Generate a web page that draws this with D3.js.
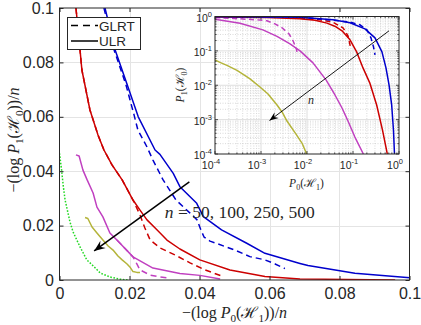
<!DOCTYPE html>
<html>
<head>
<meta charset="utf-8">
<script src="https://cdn.jsdelivr.net/npm/d3@7/dist/d3.min.js"></script>
<style>
  body { margin: 0; background: #fff; }
  svg { display: block; }
</style>
</head>
<body>
<svg id="chart" width="421" height="325"></svg>
<script>
// ---- main plot data: -(log P)/n, pairs of [P0 term, P1 term]
var mainTicks = [0, 0.02, 0.04, 0.06, 0.08, 0.1];

var ulr50 = [[0.0130,0.1],[0.0159,0.0846],[0.0192,0.0723],[0.0225,0.0600],[0.0273,0.0478],[0.0287,0.0462],
  [0.0325,0.0392],[0.0344,0.0343],[0.0392,0.0282],[0.0411,0.0233],[0.0463,0.0184],[0.0535,0.0135],
  [0.0587,0.0098],[0.0687,0.0061],[0.0710,0.0053],[0.0844,0.0025],[0.1001,0.0008]];
var glrt50 = [[0.0127,0.1],[0.0156,0.0846],[0.0190,0.0717],[0.0213,0.0607],[0.0224,0.0551],[0.0250,0.0489],
  [0.0267,0.0441],[0.0296,0.0368],[0.0333,0.0294],[0.0373,0.0246],[0.0393,0.0221],[0.0404,0.0184],
  [0.0413,0.0158],[0.0430,0.0143],[0.0450,0.0134],[0.0501,0.0110],[0.0544,0.0086],[0.0587,0.0074],
  [0.0616,0.0059],[0.0644,0.0042]];
var ulr100 = [[0.0047,0.1],[0.0056,0.0882],[0.0064,0.0772],[0.0087,0.0625],[0.0110,0.0533],[0.0127,0.0478],
  [0.0150,0.0423],[0.0179,0.0368],[0.0210,0.0294],[0.0230,0.0257],[0.0250,0.0221],[0.0279,0.0184],
  [0.0307,0.0147],[0.0344,0.0114],[0.0401,0.0074],[0.0487,0.0037],[0.0587,0.0013],[0.0687,0.0004],[0.0959,0.0]];
var glrt100 = [[0.0047,0.1],[0.0056,0.0882],[0.0064,0.0772],[0.0087,0.0625],[0.0110,0.0533],[0.0127,0.0478],
  [0.0150,0.0423],[0.0179,0.0368],[0.0210,0.0294],[0.0230,0.0239],[0.0244,0.0191],[0.0259,0.0147],
  [0.0287,0.0118],[0.0330,0.0092],[0.0373,0.0063],[0.0416,0.0037],[0.0467,0.0013]];
var ulr250 = [[0.0047,0.0460],[0.0056,0.0456],[0.0067,0.0404],[0.0079,0.0368],[0.0096,0.0320],[0.0107,0.0268],
  [0.0124,0.0232],[0.0144,0.0173],[0.0164,0.0147],[0.0210,0.0085],[0.0267,0.0044],[0.0344,0.0024],
  [0.0401,0.0017],[0.0459,0.0004]];
var glrt250 = [[0.0164,0.0147],[0.0210,0.0085],[0.0221,0.0059],[0.0230,0.0037],[0.0259,0.0018],
  [0.0287,0.0011],[0.0316,0.0007]];
var ulr500 = [[0.0073,0.0230],[0.0081,0.0226],[0.0093,0.0195],[0.0107,0.0173],[0.0124,0.0147],[0.0139,0.0125],
  [0.0153,0.0110],[0.0167,0.0088],[0.0179,0.0074],[0.0193,0.0059],[0.0201,0.0048],[0.0210,0.0031],
  [0.0221,0.0028],[0.0230,0.0028]];
var bound = [[0,0.0466],[0.0006,0.0404],[0.0011,0.0343],[0.0016,0.0294],[0.0021,0.0265],[0.0030,0.0213],
  [0.0039,0.0176],[0.0059,0.0121],[0.0078,0.0074],[0.0097,0.0051],[0.0116,0.0026],[0.0144,0.0011],
  [0.0173,0.0003],[0.0196,0]];

// ---- inset data: P0(H1) vs P1(H0), log-log
var insetTicks = [1e-4, 1e-3, 1e-2, 1e-1, 1];
var insetExp = ["-4", "-3", "-2", "-1", "0"];

var iUlr50 = [[1e-4,0.99],[0.00705,0.947],[0.0367,0.80],[0.0861,0.655],[0.182,0.438],[0.301,0.239],
  [0.426,0.0935],[0.521,0.0319],[0.607,0.0102],[0.693,0.00267],[0.758,0.000497],[0.798,1e-4]];
var iGlrt50 = [[0.00705,0.96],[0.0367,0.785],[0.0861,0.687],[0.142,0.573],[0.201,0.41],[0.246,0.239],
  [0.279,0.131],[0.301,0.0764]];
var iUlr100 = [[1e-4,0.96],[0.00135,0.929],[0.00705,0.857],[0.0149,0.775],[0.0272,0.642],[0.0427,0.501],
  [0.0577,0.383],[0.0861,0.209],[0.120,0.0935],[0.165,0.0319],[0.234,0.0113],[0.327,0.00267],
  [0.438,0.000497],[0.557,1e-4]];
var iGlrt100 = [[0.00705,0.886],[0.0192,0.80],[0.0367,0.677],[0.0607,0.469],[0.0778,0.274],[0.0861,0.150],
  [0.0884,0.122]];
var iUlr250 = [[1e-4,0.829],[0.000349,0.634],[0.0011,0.409],[0.00223,0.265],[0.00427,0.160],[0.00705,0.1],
  [0.0135,0.0447],[0.0259,0.0143],[0.0406,0.00521],[0.0577,0.00218],[0.0778,0.00091],[0.110,0.000311],
  [0.168,1e-4]];
var iGlrt250 = [[1e-4,0.94],[0.000349,0.857],[0.000818,0.80],[0.00135,0.749],[0.00201,0.612],[0.00287,0.469],
  [0.00406,0.313],[0.00497,0.196],[0.00577,0.122],[0.00607,0.0935]];
var iUlr500 = [[1e-4,0.0547],[0.000128,0.0462],[0.000182,0.0378],[0.000301,0.027],[0.000426,0.020],
  [0.000577,0.0153],[0.00095,0.0089],[0.00142,0.00558],[0.00223,0.00267],[0.00287,0.00167],
  [0.00367,0.00091],[0.00577,0.00038],[0.00778,0.000208],[0.00984,1e-4]];

var BLUE = "#0000cc", RED = "#cc0000", MAG = "#c040c0", OLIVE = "#b4b43a", GREEN = "#22d822";
var AX = "#262626";

var svg = d3.select("#chart");

// ================= main axes =================
var x = d3.scaleLinear().domain([0, 0.1]).range([59.5, 409.5]);
var y = d3.scaleLinear().domain([0, 0.1]).range([280, 8]);

svg.append("defs").append("clipPath").attr("id", "clipMain")
  .append("rect").attr("x", x(0)).attr("y", y(0.1)).attr("width", x(0.1) - x(0)).attr("height", y(0) - y(0.1));

// grid
var grid = svg.append("g").attr("stroke", "#e4e4e4").attr("stroke-width", 1);
grid.selectAll(".gx").data(mainTicks.slice(1, -1)).enter().append("line")
  .attr("x1", d => Math.round(x(d)) + 0.5).attr("x2", d => Math.round(x(d)) + 0.5)
  .attr("y1", y(0)).attr("y2", y(0.1));
grid.selectAll(".gy").data(mainTicks.slice(1, -1)).enter().append("line")
  .attr("y1", d => Math.round(y(d)) + 0.5).attr("y2", d => Math.round(y(d)) + 0.5)
  .attr("x1", x(0)).attr("x2", x(0.1));

var line = d3.line().x(d => x(d[0])).y(d => y(d[1]));

var mainSeries = [
  {data: bound, color: GREEN, dash: "1.6,1.6"},
  {data: ulr500, color: OLIVE},
  {data: glrt250, color: MAG, dash: "6,4"},
  {data: ulr250, color: MAG},
  {data: glrt100, color: RED, dash: "6,4"},
  {data: ulr100, color: RED},
  {data: glrt50, color: BLUE, dash: "6,4"},
  {data: ulr50, color: BLUE}
];

var curves = svg.append("g").attr("clip-path", "url(#clipMain)");
curves.selectAll("path").data(mainSeries).enter().append("path")
  .attr("d", d => line(d.data))
  .attr("fill", "none")
  .attr("stroke", d => d.color)
  .attr("stroke-width", 1.5)
  .attr("stroke-dasharray", d => d.dash || null)
  .attr("stroke-linejoin", "round");

// axes
var fmt = d => d === 0 ? "0" : d3.format("")(d);
var xAxis = svg.append("g").attr("transform", "translate(0," + y(0) + ")")
  .call(d3.axisBottom(x).tickValues(mainTicks).tickSizeInner(-4).tickSizeOuter(0).tickPadding(7.5).tickFormat(fmt));
var yAxis = svg.append("g").attr("transform", "translate(" + x(0) + ",0)")
  .call(d3.axisLeft(y).tickValues(mainTicks).tickSizeInner(-4).tickSizeOuter(0).tickPadding(5.5).tickFormat(fmt));
svg.append("g").attr("transform", "translate(0," + y(0.1) + ")")
  .call(d3.axisTop(x).tickValues(mainTicks).tickSizeInner(-4).tickSizeOuter(0).tickFormat(""));
svg.append("g").attr("transform", "translate(" + x(0.1) + ",0)")
  .call(d3.axisRight(y).tickValues(mainTicks).tickSizeInner(-4).tickSizeOuter(0).tickFormat(""));

svg.selectAll(".domain").remove();
svg.selectAll(".tick line").attr("stroke", AX);
svg.selectAll(".tick text").attr("fill", AX)
  .style("font-family", "'Liberation Sans', Arial, sans-serif").style("font-size", "16px");

svg.append("rect").attr("x", x(0)).attr("y", y(0.1))
  .attr("width", x(0.1) - x(0)).attr("height", y(0) - y(0.1))
  .attr("fill", "none").attr("stroke", AX).attr("stroke-width", 1);

// math-style text helper
function mathText(g, parts, size) {
  var t = g.append("text").attr("fill", AX)
    .style("font-family", "'Liberation Serif', 'DejaVu Serif', serif").style("font-size", size + "px");
  var shift = 0;
  parts.forEach(function(p) {
    var want = p.sub ? size * 0.28 : 0;
    var ts = t.append("tspan").text(p.t).attr("dy", want - shift);
    shift = want;
    if (p.it) ts.style("font-style", "italic");
    if (p.sub) ts.style("font-size", (size * 0.7) + "px");
    if (p.dx) ts.attr("dx", p.dx);
  });
  return t;
}

// axis labels
mathText(svg.append("g").attr("transform", "translate(234.5,318)"), [
  {t: "\u2212(log "}, {t: "P", it: true}, {t: "0", sub: true}, {t: "("}, {t: "\u210B"}, {t: "1", sub: true},
  {t: "))/"}, {t: "n", it: true}], 16).attr("text-anchor", "middle");

mathText(svg.append("g").attr("transform", "translate(19,140) rotate(-90)"), [
  {t: "\u2212(log "}, {t: "P", it: true}, {t: "1", sub: true}, {t: "("}, {t: "\u210B"}, {t: "0", sub: true},
  {t: "))/"}, {t: "n", it: true}], 16).attr("text-anchor", "middle");

// annotation + arrow (main)
function arrow(g, x1, y1, x2, y2, w, len, half) {
  g.append("line").attr("x1", x1).attr("y1", y1).attr("x2", x2).attr("y2", y2)
    .attr("stroke", "#000").attr("stroke-width", w);
  var a = Math.atan2(y2 - y1, x2 - x1), ca = Math.cos(a), sa = Math.sin(a);
  var bx = x2 - len * ca, by = y2 - len * sa;
  var nx = x2 - len * 0.65 * ca, ny = y2 - len * 0.65 * sa;
  var pts = [[x2, y2], [bx - half * sa, by + half * ca], [nx, ny], [bx + half * sa, by - half * ca]];
  g.append("path").attr("d", "M" + pts.map(p => p.join(",")).join("L") + "Z").attr("fill", "#000");
}
var arrowStart = [0.0371, 0.0361], arrowEnd = [0.0099, 0.0107];
arrow(svg.append("g"), x(arrowStart[0]), y(arrowStart[1]), x(arrowEnd[0]), y(arrowEnd[1]), 1.5, 11, 4.5);

var nLabel = [0.0301, 0.0229];
var ann = svg.append("text").attr("x", x(nLabel[0])).attr("y", y(nLabel[1])).attr("fill", AX)
  .style("font-family", "'Liberation Serif', 'DejaVu Serif', serif").style("font-size", "17.5px");
ann.append("tspan").style("font-style", "italic").text("n");
ann.append("tspan").text(" = 50, 100, 250, 500");

// legend
var lg = svg.append("g");
lg.append("rect").attr("x", 67.5).attr("y", 17.5).attr("width", 73).attr("height", 32)
  .attr("fill", "#fff").attr("stroke", AX).attr("stroke-width", 1);
var legendItems = [{name: "GLRT", dash: "7,5"}, {name: "ULR", dash: null}];
legendItems.forEach(function(d, i) {
  var ly = 25.5 + i * 15.5;
  lg.append("line").attr("x1", 71).attr("x2", 98).attr("y1", ly).attr("y2", ly)
    .attr("stroke", "#000").attr("stroke-width", 1.5).attr("stroke-dasharray", d.dash);
  lg.append("text").attr("x", 99).attr("y", ly + 5).attr("fill", AX)
    .style("font-family", "'Liberation Sans', Arial, sans-serif").style("font-size", "13.5px").text(d.name);
});

// ================= inset =================
var xi = d3.scaleLog().domain([1e-4, 1]).range([215, 399]);
var yi = d3.scaleLog().domain([1e-4, 1]).range([154, 16.5]);

var inset = svg.append("g");
inset.append("rect").attr("x", 215).attr("y", 16.5).attr("width", 184).attr("height", 137.5).attr("fill", "#fff");

svg.select("defs").append("clipPath").attr("id", "clipInset")
  .append("rect").attr("x", 215).attr("y", 16.5).attr("width", 184).attr("height", 137.5);

var minors = [];
insetTicks.slice(0, -1).forEach(function(t) { for (var k = 2; k <= 9; k++) minors.push(t * k); });

var ig = inset.append("g");
ig.selectAll(".mx").data(minors).enter().append("line")
  .attr("x1", d => xi(d)).attr("x2", d => xi(d)).attr("y1", yi(1e-4)).attr("y2", yi(1))
  .attr("stroke", "#c8c8c8").attr("stroke-width", 0.7).attr("stroke-dasharray", "1,1.5");
ig.selectAll(".my").data(minors).enter().append("line")
  .attr("y1", d => yi(d)).attr("y2", d => yi(d)).attr("x1", xi(1e-4)).attr("x2", xi(1))
  .attr("stroke", "#c8c8c8").attr("stroke-width", 0.7).attr("stroke-dasharray", "1,1.5");
ig.selectAll(".Mx").data(insetTicks.slice(1, -1)).enter().append("line")
  .attr("x1", d => xi(d)).attr("x2", d => xi(d)).attr("y1", yi(1e-4)).attr("y2", yi(1))
  .attr("stroke", "#dedede").attr("stroke-width", 1);
ig.selectAll(".My").data(insetTicks.slice(1, -1)).enter().append("line")
  .attr("y1", d => yi(d)).attr("y2", d => yi(d)).attr("x1", xi(1e-4)).attr("x2", xi(1))
  .attr("stroke", "#dedede").attr("stroke-width", 1);

var iline = d3.line().x(d => xi(d[0])).y(d => yi(d[1]));
var insetSeries = [
  {data: iUlr500, color: OLIVE},
  {data: iUlr250, color: MAG},
  {data: iGlrt250, color: MAG, dash: "5,3.5"},
  {data: iUlr100, color: RED},
  {data: iGlrt100, color: RED, dash: "5,3.5"},
  {data: iUlr50, color: BLUE},
  {data: iGlrt50, color: BLUE, dash: "5,3.5"}
];
inset.append("g").attr("clip-path", "url(#clipInset)")
  .selectAll("path").data(insetSeries).enter().append("path")
  .attr("d", d => iline(d.data))
  .attr("fill", "none").attr("stroke", d => d.color).attr("stroke-width", 1.5)
  .attr("stroke-dasharray", d => d.dash || null).attr("stroke-linejoin", "round");

// inset ticks (inward) on all four sides
var tk = inset.append("g").attr("stroke", AX).attr("stroke-width", 0.8);
insetTicks.concat(minors).forEach(function(d) {
  var L = insetTicks.indexOf(d) >= 0 ? 3 : 1.6;
  tk.append("line").attr("x1", xi(d)).attr("x2", xi(d)).attr("y1", yi(1e-4)).attr("y2", yi(1e-4) - L);
  tk.append("line").attr("x1", xi(d)).attr("x2", xi(d)).attr("y1", yi(1)).attr("y2", yi(1) + L);
  tk.append("line").attr("y1", yi(d)).attr("y2", yi(d)).attr("x1", xi(1e-4)).attr("x2", xi(1e-4) + L);
  tk.append("line").attr("y1", yi(d)).attr("y2", yi(d)).attr("x1", xi(1)).attr("x2", xi(1) - L);
});
inset.append("rect").attr("x", 215).attr("y", 16.5).attr("width", 184).attr("height", 137.5)
  .attr("fill", "none").attr("stroke", AX).attr("stroke-width", 1);

// inset tick labels
function powLabel(px, py, exp, anchor) {
  var t = inset.append("text").attr("x", px).attr("y", py).attr("text-anchor", anchor).attr("fill", AX)
    .style("font-family", "'Liberation Sans', Arial, sans-serif").style("font-size", "10.5px");
  t.append("tspan").text("10");
  t.append("tspan").attr("dy", -5).style("font-size", "7.5px").text(exp);
}
insetTicks.forEach(function(d, i) {
  powLabel(xi(d) - 4, 169, insetExp[i], "middle");
  powLabel(212, yi(d) + 5, insetExp[i], "end");
});

mathText(inset.append("g").attr("transform", "translate(306.5,187)"), [
  {t: "P", it: true}, {t: "0", sub: true}, {t: "("}, {t: "\u210B"}, {t: "1", sub: true}, {t: ")"}], 11.5)
  .attr("text-anchor", "middle");
mathText(inset.append("g").attr("transform", "translate(184,85) rotate(-90)"), [
  {t: "P", it: true}, {t: "1", sub: true}, {t: "("}, {t: "\u210B"}, {t: "0", sub: true}, {t: ")"}], 11.5)
  .attr("text-anchor", "middle");

// inset arrow and n
var iArrowStart = [0.607, 0.383], iArrowEnd = [0.00153, 0.00094];
arrow(inset.append("g"), xi(iArrowStart[0]), yi(iArrowStart[1]), xi(iArrowEnd[0]), yi(iArrowEnd[1]), 0.9, 9, 3.5);
var iN = [0.0122, 0.0037];
inset.append("text").attr("x", xi(iN[0])).attr("y", yi(iN[1]) + 4).attr("text-anchor", "middle").attr("fill", AX)
  .style("font-family", "'Liberation Serif', 'DejaVu Serif', serif").style("font-style", "italic")
  .style("font-size", "12px").text("n");
</script>
</body>
</html>
